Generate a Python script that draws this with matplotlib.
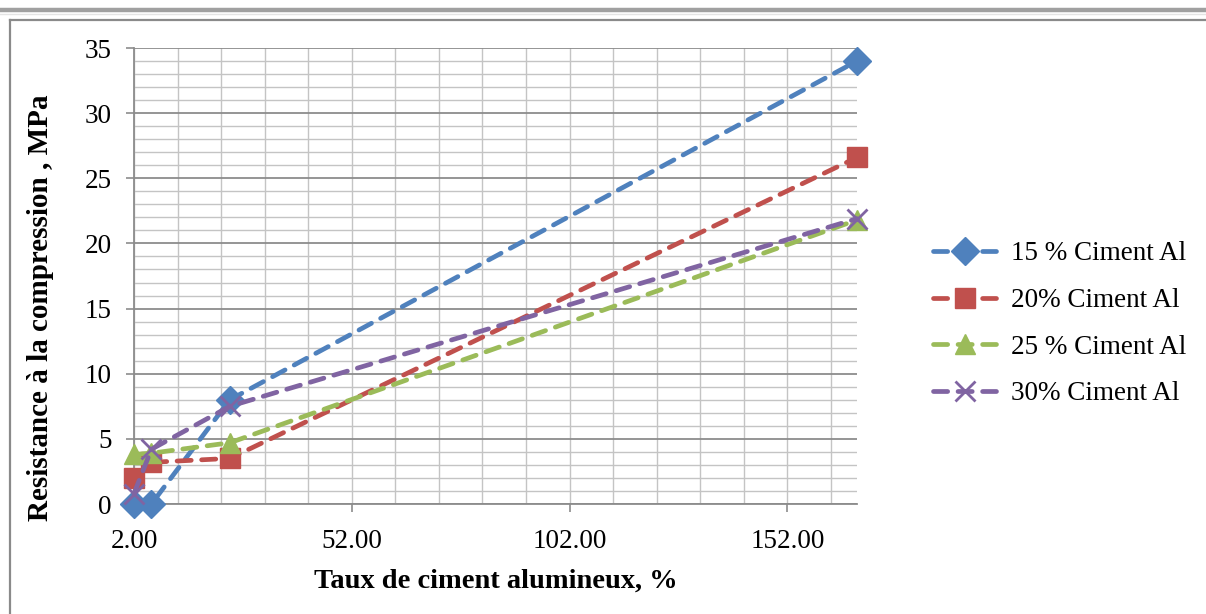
import numpy as np
import matplotlib.pyplot as plt
from matplotlib.ticker import MultipleLocator, FormatStrFormatter
from matplotlib.lines import Line2D

# curing time (x) and compressive strength for each cement dosage
temps = [2, 6, 24, 168]
r15 = [0.0, 0.0, 8.0, 34.0]
r20 = [2.0, 3.2, 3.5, 26.6]
r25 = [3.8, 3.9, 4.7, 21.8]
r30 = [0.8, 4.2, 7.5, 21.9]

series = [
    ("15 % Ciment Al", r15, "#4f81bd", "D", 14),
    ("20% Ciment Al", r20, "#c0504d", "s", 14),
    ("25 % Ciment Al", r25, "#9bbb59", "^", 15),
    ("30% Ciment Al", r30, "#8064a2", "x", 14),
]

plt.rcParams['font.family'] = ['Liberation Serif', 'DejaVu Serif']

fig = plt.figure(figsize=(12.06, 6.14), dpi=100)

# page frame lines
fig.add_artist(Line2D([0, 1], [1 - 10/614, 1 - 10/614], color="#a0a0a0", lw=3.2))
fig.add_artist(Line2D([0, 1], [1 - 14/614, 1 - 14/614], color="#e4e4e4", lw=1.0))
fig.add_artist(Line2D([10/1206, 1], [1 - 20/614, 1 - 20/614], color="#8a8a8a", lw=1.6))
fig.add_artist(Line2D([10/1206, 10/1206], [0, 1 - 20/614], color="#8a8a8a", lw=1.6))

ax = fig.add_axes([134/1206, 1 - 504/614, (857 - 134)/1206, (504 - 48)/614])

for name, vals, col, mk, ms in series:
    ax.plot(temps, vals, color=col, lw=3.4, ls=(0, (3.0, 2.2)), dash_capstyle='round',
            marker=mk, markersize=ms, markerfacecolor=col, markeredgecolor=col,
            markeredgewidth=2 if mk == "x" else 1, label=name, clip_on=False, zorder=3)

ax.set_xlim(2, 168)
ax.set_ylim(0, 35)
ax.xaxis.set_major_locator(MultipleLocator(50, offset=2))
ax.xaxis.set_minor_locator(MultipleLocator(10, offset=2))
ax.xaxis.set_major_formatter(FormatStrFormatter('%.2f'))
ax.yaxis.set_major_locator(MultipleLocator(5))
ax.yaxis.set_minor_locator(MultipleLocator(1))

ax.grid(which='major', axis='y', color='#8c8c8c', lw=1.3)
ax.grid(which='minor', axis='y', color='#c4c4c4', lw=1.0)
ax.grid(which='both', axis='x', color='#c4c4c4', lw=1.0)
ax.set_axisbelow(True)

for s in ['top', 'right']:
    ax.spines[s].set_visible(False)
for s in ['left', 'bottom']:
    ax.spines[s].set_color('#8c8c8c')
    ax.spines[s].set_linewidth(1.3)

ax.tick_params(which='major', length=6, width=1.2, color='#8c8c8c', labelsize=19.5, pad=10)
ax.tick_params(which='minor', length=0)
ax.tick_params(axis='x', pad=12)

ax.set_xlabel("Taux de ciment alumineux, %", fontsize=20.5, fontweight='bold')
ax.set_ylabel("Resistance à la compression , MPa", fontsize=21, fontweight='bold')
ax.xaxis.set_label_coords(0.5, -0.141)
ax.yaxis.set_label_coords(-0.11, 0.43)

leg = ax.legend(loc='center left', bbox_to_anchor=(1.071, 0.395), frameon=False,
                fontsize=19.5, handlelength=2.35, labelspacing=0.8, handletextpad=0.55)

fig.savefig("out.png", dpi=100)
